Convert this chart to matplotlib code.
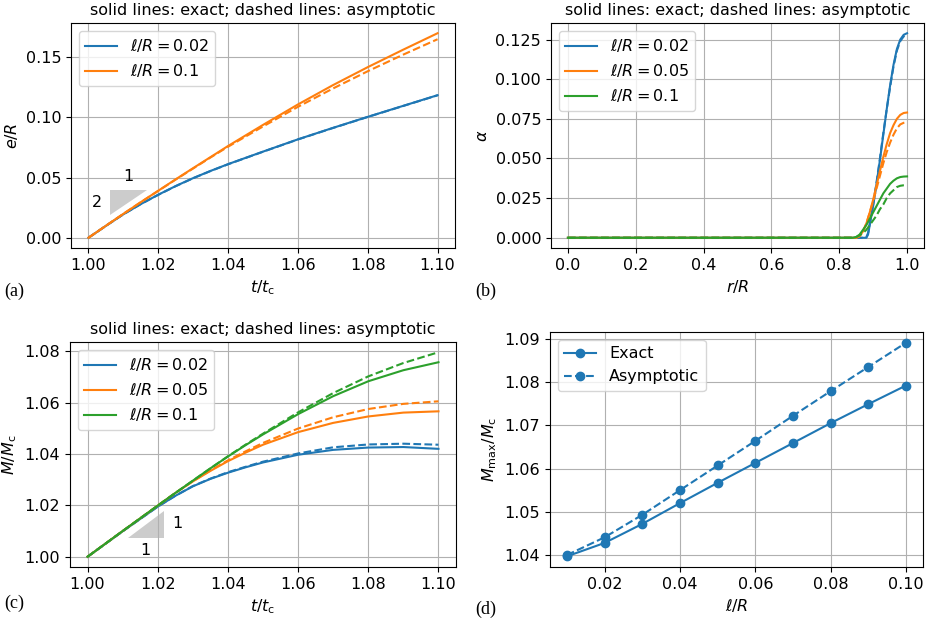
import numpy as np
import matplotlib
matplotlib.use("Agg")
import matplotlib.pyplot as plt

plt.rcParams['font.size'] = 11.5
plt.rcParams['mathtext.fontset'] = 'dejavusans'

# ---------- Panel (a): e/R vs t/tc ----------
t_a = [1.00, 1.005, 1.01, 1.015, 1.02, 1.025, 1.03, 1.035, 1.04, 1.05, 1.06, 1.07, 1.08, 1.09, 1.10]
e_002_exact = [0.0, 0.0099, 0.0195, 0.0280, 0.0358, 0.0430, 0.0496, 0.0556, 0.0612, 0.0716, 0.0818, 0.0913, 0.1005, 0.1095, 0.1185]
e_002_asym = [0.0, 0.0099, 0.0195, 0.0280, 0.0357, 0.0429, 0.0495, 0.0555, 0.0611, 0.0715, 0.0817, 0.0912, 0.1004, 0.1094, 0.1184]
e_01_exact = [0.0, 0.0100, 0.0199, 0.0296, 0.0391, 0.0486, 0.0579, 0.0671, 0.0763, 0.0938, 0.1108, 0.1268, 0.1418, 0.1561, 0.1700]
e_01_asym = [0.0, 0.0100, 0.0199, 0.0296, 0.0390, 0.0484, 0.0576, 0.0668, 0.0757, 0.0925, 0.1088, 0.1240, 0.1384, 0.1520, 0.1650]
tri_a_x = [1.0062, 1.0062, 1.0169]
tri_a_y = [0.0193, 0.0400, 0.0400]

# ---------- Panel (b): alpha vs r/R ----------
r_b02 = [0.0, 0.875, 0.88, 0.885, 0.89, 0.90, 0.91, 0.92, 0.93, 0.94, 0.95, 0.96, 0.97, 0.98, 0.99, 1.0]
a_02_exact = [0.0, 0.0, 0.0, 0.002, 0.008, 0.020, 0.034, 0.049, 0.065, 0.081, 0.096, 0.109, 0.119, 0.125, 0.128, 0.129]
a_02_asym = [0.0, 0.0, 0.0005, 0.003, 0.009, 0.021, 0.035, 0.050, 0.066, 0.081, 0.095, 0.108, 0.118, 0.124, 0.127, 0.128]
r_b = [0.0, 0.84, 0.85, 0.86, 0.87, 0.88, 0.89, 0.90, 0.91, 0.92, 0.93, 0.94, 0.95, 0.96, 0.97, 0.98, 0.99, 1.0]
a_05_exact = [0.0, 0.0, 0.0, 0.001, 0.004, 0.009, 0.016, 0.024, 0.033, 0.042, 0.051, 0.059, 0.066, 0.071, 0.075, 0.0775, 0.0787, 0.079]
a_05_asym = [0.0, 0.0, 0.0, 0.001, 0.004, 0.009, 0.016, 0.023, 0.031, 0.039, 0.047, 0.054, 0.060, 0.065, 0.069, 0.0715, 0.0725, 0.073]
a_1_exact = [0.0, 0.0, 0.0005, 0.002, 0.005, 0.008, 0.012, 0.016, 0.020, 0.024, 0.028, 0.031, 0.034, 0.036, 0.0375, 0.0383, 0.0386, 0.0387]
a_1_asym = [0.0, 0.0, 0.0005, 0.0015, 0.003, 0.005, 0.008, 0.011, 0.014, 0.018, 0.021, 0.025, 0.028, 0.030, 0.032, 0.0328, 0.0331, 0.0332]

# ---------- Panel (c): M/Mc vs t/tc ----------
t_c = [1.00, 1.01, 1.02, 1.025, 1.03, 1.035, 1.04, 1.045, 1.05, 1.06, 1.07, 1.08, 1.09, 1.10]
m_02_exact = [1.0, 1.0099, 1.0195, 1.0237, 1.0274, 1.0303, 1.0327, 1.0348, 1.0367, 1.0397, 1.0416, 1.0425, 1.0427, 1.0420]
m_02_asym = [1.0, 1.0099, 1.0195, 1.0237, 1.0275, 1.0304, 1.0329, 1.0350, 1.0370, 1.0402, 1.0426, 1.0437, 1.0440, 1.0436]
m_05_exact = [1.0, 1.0100, 1.0199, 1.0248, 1.0293, 1.0334, 1.0372, 1.0405, 1.0436, 1.0485, 1.0521, 1.0546, 1.0561, 1.0566]
m_05_asym = [1.0, 1.0100, 1.0199, 1.0248, 1.0294, 1.0336, 1.0375, 1.0410, 1.0443, 1.0499, 1.0543, 1.0575, 1.0595, 1.0605]
m_1_exact = [1.0, 1.0100, 1.0199, 1.0248, 1.0296, 1.0344, 1.0390, 1.0434, 1.0476, 1.0555, 1.0625, 1.0683, 1.0726, 1.0757]
m_1_asym = [1.0, 1.0100, 1.0199, 1.0248, 1.0296, 1.0344, 1.0391, 1.0436, 1.0479, 1.0562, 1.0637, 1.0702, 1.0754, 1.0796]
tri_c_x = [1.0114, 1.0219, 1.0219]
tri_c_y = [1.00715, 1.00715, 1.01782]

# ---------- Panel (d): Mmax/Mc vs l/R ----------
l_d = [0.01, 0.02, 0.03, 0.04, 0.05, 0.06, 0.07, 0.08, 0.09, 0.10]
mmax_exact = [1.0397, 1.0428, 1.0472, 1.0520, 1.0567, 1.0613, 1.0659, 1.0705, 1.0749, 1.0792]
mmax_asym = [1.0400, 1.0441, 1.0493, 1.0550, 1.0607, 1.0664, 1.0722, 1.0779, 1.0835, 1.0891]

TITLE = 'solid lines: exact; dashed lines: asymptotic'

fig = plt.figure(figsize=(9.28, 6.2), dpi=100)
ax_a = fig.add_axes([0.0765, 0.600, 0.4138, 0.3629])
ax_b = fig.add_axes([0.5937, 0.600, 0.4020, 0.3629])
ax_c = fig.add_axes([0.0754, 0.0855, 0.4160, 0.3629])
ax_d = fig.add_axes([0.5927, 0.0855, 0.4019, 0.3790])

# (a)
ax_a.fill(tri_a_x, tri_a_y, color='0.8', lw=0)
ax_a.plot(t_a, e_002_exact, color='C0', label=r'$\ell/R = 0.02$')
ax_a.plot(t_a, e_002_asym, color='C0', ls='--')
ax_a.plot(t_a, e_01_exact, color='C1', label=r'$\ell/R = 0.1$')
ax_a.plot(t_a, e_01_asym, color='C1', ls='--')
ax_a.text(1.0024, 0.0295, '2', ha='center', va='center')
ax_a.text(1.0114, 0.0510, '1', ha='center', va='center')
ax_a.set_xticks([1.00, 1.02, 1.04, 1.06, 1.08, 1.10])
ax_a.set_yticks([0.00, 0.05, 0.10, 0.15])
ax_a.set_xlabel(r'$t/t_{\rm c}$')
ax_a.set_ylabel(r'$e/R$')
ax_a.set_title(TITLE, fontsize=11.5)
ax_a.legend(loc='upper left')
ax_a.grid(True)

# (b)
ax_b.plot(r_b02, a_02_exact, color='C0', label=r'$\ell/R = 0.02$')
ax_b.plot(r_b02, a_02_asym, color='C0', ls='--')
ax_b.plot(r_b, a_05_exact, color='C1', label=r'$\ell/R = 0.05$')
ax_b.plot(r_b, a_05_asym, color='C1', ls='--')
ax_b.plot(r_b, a_1_exact, color='C2', label=r'$\ell/R = 0.1$')
ax_b.plot(r_b, a_1_asym, color='C2', ls='--')
ax_b.set_xticks([0.0, 0.2, 0.4, 0.6, 0.8, 1.0])
ax_b.set_yticks([0.0, 0.025, 0.05, 0.075, 0.1, 0.125])
ax_b.set_xlabel(r'$r/R$')
ax_b.set_ylabel(r'$\alpha$')
ax_b.set_title(TITLE, fontsize=11.5)
ax_b.legend(loc='upper left')
ax_b.grid(True)

# (c)
ax_c.fill(tri_c_x, tri_c_y, color='0.8', lw=0)
ax_c.plot(t_c, m_02_exact, color='C0', label=r'$\ell/R = 0.02$')
ax_c.plot(t_c, m_02_asym, color='C0', ls='--')
ax_c.plot(t_c, m_05_exact, color='C1', label=r'$\ell/R = 0.05$')
ax_c.plot(t_c, m_05_asym, color='C1', ls='--')
ax_c.plot(t_c, m_1_exact, color='C2', label=r'$\ell/R = 0.1$')
ax_c.plot(t_c, m_1_asym, color='C2', ls='--')
ax_c.text(1.0256, 1.0130, '1', ha='center', va='center')
ax_c.text(1.0164, 1.0023, '1', ha='center', va='center')
ax_c.set_xticks([1.00, 1.02, 1.04, 1.06, 1.08, 1.10])
ax_c.set_yticks([1.00, 1.02, 1.04, 1.06, 1.08])
ax_c.set_xlabel(r'$t/t_{\rm c}$')
ax_c.set_ylabel(r'$M/M_{\rm c}$')
ax_c.set_title(TITLE, fontsize=11.5)
ax_c.legend(loc='upper left')
ax_c.grid(True)

# (d)
ax_d.plot(l_d, mmax_exact, color='C0', marker='o', label='Exact')
ax_d.plot(l_d, mmax_asym, color='C0', marker='o', ls='--', label='Asymptotic')
ax_d.set_xticks([0.02, 0.04, 0.06, 0.08, 0.10])
ax_d.set_yticks([1.04, 1.05, 1.06, 1.07, 1.08, 1.09])
ax_d.set_xlabel(r'$\ell/R$')
ax_d.set_ylabel(r'$M_{\max}/M_{\rm c}$')
ax_d.legend(loc='upper left')
ax_d.grid(True)

for lab, x, y in [('(a)', 0.005, 0.522), ('(b)', 0.512, 0.522), ('(c)', 0.005, 0.020), ('(d)', 0.512, 0.009)]:
    fig.text(x, y, lab, family='Liberation Serif', fontsize=13)

fig.savefig('out.png', dpi=100)
